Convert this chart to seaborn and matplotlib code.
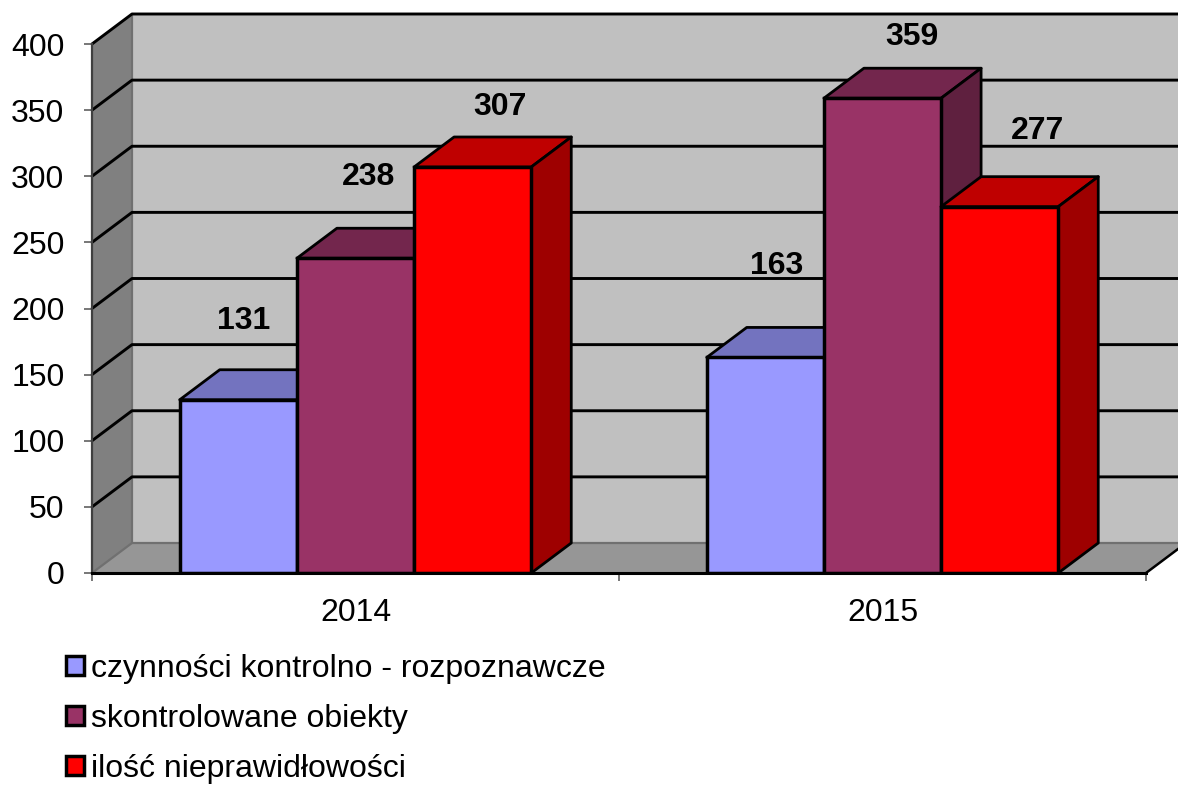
import pandas as pd
import matplotlib.pyplot as plt
import seaborn as sns
from matplotlib.colors import to_rgb
from matplotlib.patches import Polygon

years = ["2014", "2015"]
series = ["czynności kontrolno - rozpoznawcze", "skontrolowane obiekty", "ilość nieprawidłowości"]
kontrole = [131, 163]
obiekty = [238, 359]
nieprawidlowosci = [307, 277]
yticks = [0, 50, 100, 150, 200, 250, 300, 350, 400]

colors = ["#9999FF", "#993366", "#FF0000"]
top_shade = 0.75
side_shade = 0.62

W, H = 1178, 786
X0, X1, Y0, Y1 = 92, 1146, 573, 44  # plot area in pixels
DX_PX, DY_PX = 40, 30
FS = 23


def main():
    df = pd.DataFrame({"rok": years, series[0]: kontrole, series[1]: obiekty, series[2]: nieprawidlowosci})
    df = df.melt(id_vars="rok", var_name="seria", value_name="wartosc")

    sns.set_theme(style="white")
    plt.rcParams["font.family"] = ["Liberation Sans", "DejaVu Sans"]

    fig = plt.figure(figsize=(W / 100, H / 100), dpi=100)
    ax = fig.add_axes([X0 / W, 1 - Y0 / H, (X1 - X0) / W, (Y0 - Y1) / H])
    ax.patch.set_alpha(0)

    sns.barplot(data=df, x="rok", y="wartosc", hue="seria", hue_order=series, order=years,
                palette=colors, width=0.667, gap=0, saturation=1, edgecolor="black",
                linewidth=2.5, ax=ax)
    bars = sorted([p for p in ax.patches if p.get_height() > 0], key=lambda p: p.get_x())
    ax.set_xlim(-0.5, 1.5)
    ax.set_ylim(0, 400)

    dx = DX_PX * 2 / (X1 - X0)
    dy = DY_PX * 400 / (Y0 - Y1)
    xa, xb = -0.5, 1.5

    # box walls
    ax.add_patch(Polygon([(xa + dx, dy), (xb + dx, dy), (xb + dx, 400 + dy), (xa + dx, 400 + dy)],
                         fc="#C0C0C0", ec="none", zorder=0.1, clip_on=False))
    ax.add_patch(Polygon([(xa, 0), (xa + dx, dy), (xa + dx, 400 + dy), (xa, 400)],
                         fc="#808080", ec="none", zorder=0.2, clip_on=False))
    ax.add_patch(Polygon([(xa, 0), (xb, 0), (xb + dx, dy), (xa + dx, dy)],
                         fc="#969696", ec="none", zorder=0.2, clip_on=False))
    ax.plot([xa + dx, xa + dx], [dy, 400 + dy], color="#707070", lw=1.6, zorder=0.3, clip_on=False)
    ax.plot([xa, xa + dx, xb + dx], [0, dy, dy], color="#707070", lw=1.6, zorder=0.3, clip_on=False)
    ax.plot([xb, xb + dx], [0, dy], color="black", lw=1.8, zorder=0.3, clip_on=False)

    # gridlines on the walls
    for v in yticks[1:]:
        ax.plot([xa, xa + dx, xb + dx], [v, v + dy, v + dy], color="black", lw=2.1,
                zorder=0.4, clip_on=False)

    # 3d sides of the bars, left to right
    for i, bar in enumerate(bars):
        x, w, h = bar.get_x(), bar.get_width(), bar.get_height()
        fc = to_rgb(bar.get_facecolor()[:3])
        z = 2 + i
        bar.set_zorder(z + 0.2)
        top = [c * top_shade for c in fc]
        side = [c * side_shade for c in fc]
        ax.add_patch(Polygon([(x, h), (x + w, h), (x + w + dx, h + dy), (x + dx, h + dy)],
                             fc=top, ec="black", lw=2, zorder=z, clip_on=False, joinstyle="round"))
        ax.add_patch(Polygon([(x + w, 0), (x + w + dx, dy), (x + w + dx, h + dy), (x + w, h)],
                             fc=side, ec="black", lw=2, zorder=z + 0.1, clip_on=False, joinstyle="round"))

    # axes
    sns.despine(ax=ax, top=True, right=True, left=False, bottom=False)
    ax.spines["left"].set_color("#404040")
    ax.spines["left"].set_linewidth(1.6)
    ax.spines["bottom"].set_color("black")
    ax.spines["bottom"].set_linewidth(2.2)
    ax.spines["bottom"].set_zorder(30)
    ax.set_xlabel("")
    ax.set_ylabel("")
    ax.set_yticks(yticks)
    ax.set_xticks([-0.5, 0.5, 1.5], minor=False)
    ax.set_xticklabels([])
    ax.tick_params(axis="y", left=True, length=5.8, width=1.2, color="#606060", pad=14,
                   labelsize=FS, labelcolor="black")
    ax.tick_params(axis="x", bottom=True, length=5.5, width=1.2, color="#606060")
    for i, year in enumerate(years):
        ax.annotate(year, (i, 0), xytext=(0, -40), textcoords="offset pixels", ha="center", va="center",
                    fontsize=FS, color="black", annotation_clip=False)

    # value labels, offsets in pixels from each bar's top centre
    offsets = [(5, 79), (13, 81), (27, 60), (11, 91), (29, 61), (38, 76)]
    for bar, off in zip(bars, offsets):
        ax.annotate(f"{bar.get_height():.0f}", (bar.get_x() + bar.get_width() / 2, bar.get_height()),
                    xytext=off, textcoords="offset pixels", ha="center", va="center",
                    fontsize=FS, fontweight="bold", color="black", zorder=40, annotation_clip=False)

    handles, labels = ax.get_legend_handles_labels()
    ax.legend(handles, labels, loc="upper left", bbox_to_anchor=(66 / W, 1 - 654 / H),
              bbox_transform=fig.transFigure, frameon=False, fontsize=FS, borderpad=0,
              borderaxespad=0, handlelength=0.55, handleheight=0.55, handletextpad=0.22,
              labelspacing=0.62, labelcolor="black")

    fig.savefig("out.png", dpi=100)


if __name__ == "__main__":
    main()
